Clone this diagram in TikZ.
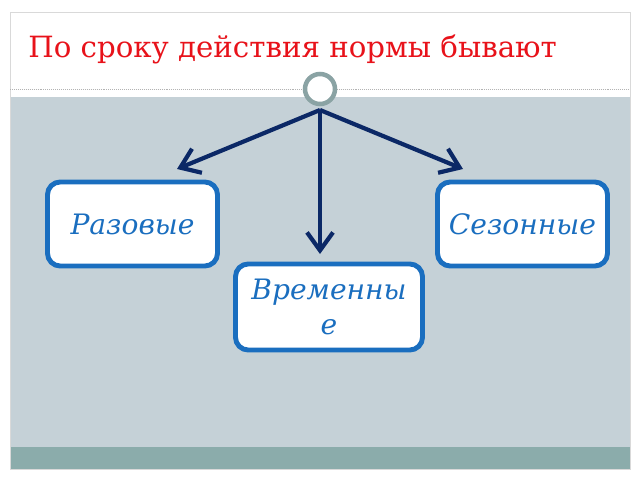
\documentclass[tikz,border=0pt]{standalone}
\usepackage{fontspec}
\setmainfont{DejaVu Serif}
\usetikzlibrary{arrows.meta,shadows}
\definecolor{titlered}{HTML}{E8121A}
\definecolor{bodygray}{HTML}{C5D1D7}
\definecolor{bandteal}{HTML}{8BACAB}
\definecolor{arrownavy}{HTML}{0B2866}
\definecolor{boxblue}{HTML}{1A6EBF}
\definecolor{ringgray}{HTML}{8AA3A4}
\begin{document}
\begin{tikzpicture}[x=0.025cm,y=-0.025cm]
% node style definition
\tikzstyle{kind} = [
	draw=boxblue, fill=white, line width=3.5pt, rounded corners=9pt,
	minimum width=170*0.025cm, minimum height=84*0.025cm,
	text=boxblue, font=\fontsize{20}{24.5}\selectfont\itshape, align=center];
\tikzstyle{link} = [
	draw=arrownavy, line width=3pt,
	-{Straight Barb[length=4.5mm,width=6.5mm,line width=3pt]}];
% slide background
\useasboundingbox (0,0) rectangle (640,480);
\fill[white] (0,0) rectangle (640,480);
\fill[bodygray] (10,97) rectangle (630,447);
\fill[bandteal] (10,447) rectangle (630,469);
\draw[black!15, line width=0.6pt] (10,12) rectangle (630,469);
\draw[black!30, densely dotted, line width=0.4pt] (10,89) -- (630,89);
% title
\node[anchor=base west, text=titlered, font=\fontsize{20.8}{25}\selectfont, inner sep=0pt]
	(title) at (28,58) {По сроку действия нормы бывают};
% ring on the divider
\node[circle, draw=ringgray, line width=3.2pt, fill=white, minimum size=30*0.025cm,
	drop shadow={opacity=0.25, shadow xshift=0pt, shadow yshift=-1pt}]
	(knot) at (320,89) {};
\coordinate (hub) at (320,110);
% the three kinds
\node[kind] (razovye) at (132.5,224) {Разовые};
\node[kind] (sezonnye) at (522.5,224) {Сезонные};
\node[kind, minimum width=187*0.025cm, minimum height=86*0.025cm]
	(vremennye) at (329,307) {Временны\\е};
% arrow tips above the boxes
\coordinate (tipL) at (177,169);
\coordinate (tipC) at (320,254);
\coordinate (tipR) at (463,169);
\foreach \t in {tipL, tipC, tipR}
{
	\draw[link] (hub) -- (\t);
}
\end{tikzpicture}
\end{document}
